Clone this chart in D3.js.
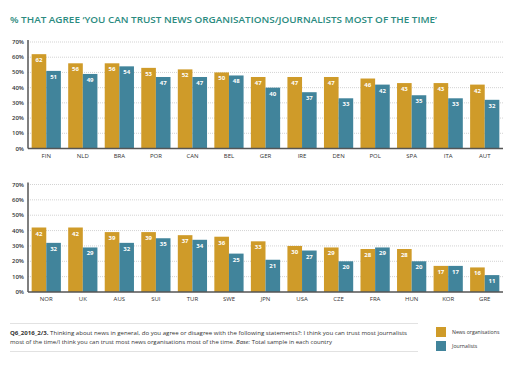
<!DOCTYPE html>
<html>
<head>
<meta charset="utf-8">
<script src="https://cdn.jsdelivr.net/npm/d3@7"></script>
<style>
  body { margin: 0; background: #fff; }
  svg { display: block; font-family: "Open Sans", "DejaVu Sans", sans-serif; }
</style>
</head>
<body>
<script>
// data
const countriesTop = ['FIN', 'NLD', 'BRA', 'POR', 'CAN', 'BEL', 'GER', 'IRE', 'DEN', 'POL', 'SPA', 'ITA', 'AUT'];
const newsOrgsTop = [62, 56, 56, 53, 52, 50, 47, 47, 47, 46, 43, 43, 42];
const journalistsTop = [51, 49, 54, 47, 47, 48, 40, 37, 33, 42, 35, 33, 32];

const countriesBottom = ['NOR', 'UK', 'AUS', 'SUI', 'TUR', 'SWE', 'JPN', 'USA', 'CZE', 'FRA', 'HUN', 'KOR', 'GRE'];
const newsOrgsBottom = [42, 42, 39, 39, 37, 36, 33, 30, 29, 28, 28, 17, 16];
const journalistsBottom = [32, 29, 32, 35, 34, 25, 21, 27, 20, 29, 20, 17, 11];

const yTicks = [0, 10, 20, 30, 40, 50, 60, 70];
const seriesNames = ['News organisations', 'Journalists'];

const gold = '#cf9b29',
    blue = '#41849b',
    axisColor = '#555',
    titleColor = '#2b8b80';

const width = 527, height = 371;
const svg = d3.select('body').append('svg')
    .attr('width', width)
    .attr('height', height);

svg.append('text')
    .attr('x', 10)
    .attr('y', 23)
    .attr('fill', titleColor)
    .attr('font-size', 8.2)
    .attr('font-weight', 600)
    .attr('textLength', 427)
    .attr('lengthAdjust', 'spacingAndGlyphs')
    .text('% THAT AGREE \u2018YOU CAN TRUST NEWS ORGANISATIONS/JOURNALISTS MOST OF THE TIME\u2019');

function drawPanel(countries, news, journ, top, bottom) {
    const left = 28, right = 503;
    const g = svg.append('g');

    const x = d3.scaleBand()
        .domain(countries)
        .range([left, right])
        .paddingInner(0.2)
        .paddingOuter(0.1);
    const xs = d3.scaleBand()
        .domain([0, 1])
        .range([0, x.bandwidth()]);
    const y = d3.scaleLinear()
        .domain([0, 70])
        .range([bottom, top]);

    // gridlines
    g.selectAll('.grid')
        .data(yTicks.slice(1))
        .join('line')
        .attr('x1', left).attr('x2', right)
        .attr('y1', d => y(d)).attr('y2', d => y(d))
        .attr('stroke', '#c8c8c8')
        .attr('stroke-width', 0.8)
        .attr('stroke-dasharray', '1,1');

    // y labels
    g.selectAll('.ylab')
        .data(yTicks)
        .join('text')
        .attr('x', left - 4)
        .attr('y', d => y(d) + 2)
        .attr('text-anchor', 'end')
        .attr('font-size', 6)
        .attr('font-weight', 600)
        .attr('fill', '#333')
        .text(d => d + '%');

    const rows = countries.map((c, i) => ({ c, vals: [news[i], journ[i]] }));
    const groups = g.selectAll('.grp')
        .data(rows)
        .join('g')
        .attr('transform', d => 'translate(' + x(d.c) + ',0)');

    groups.selectAll('rect')
        .data(d => d.vals.map((v, k) => ({ v, k })))
        .join('rect')
        .attr('x', d => xs(d.k))
        .attr('width', xs.bandwidth())
        .attr('y', d => y(d.v))
        .attr('height', d => y(0) - y(d.v))
        .attr('fill', d => d.k == 0 ? gold : blue);

    groups.selectAll('.val')
        .data(d => d.vals.map((v, k) => ({ v, k })))
        .join('text')
        .attr('x', d => xs(d.k) + xs.bandwidth() / 2)
        .attr('y', d => y(d.v) + 8)
        .attr('text-anchor', 'middle')
        .attr('font-size', 6)
        .attr('font-weight', 700)
        .attr('fill', '#fff')
        .text(d => d.v);

    // x labels
    g.selectAll('.xlab')
        .data(countries)
        .join('text')
        .attr('x', d => x(d) + x.bandwidth() / 2)
        .attr('y', bottom + 9)
        .attr('text-anchor', 'middle')
        .attr('font-size', 6)
        .attr('fill', '#333')
        .text(d => d);

    // axes
    g.append('line')
        .attr('x1', left).attr('x2', left)
        .attr('y1', top - 2).attr('y2', bottom)
        .attr('stroke', axisColor).attr('stroke-width', 1.5);
    g.append('line')
        .attr('x1', left).attr('x2', right)
        .attr('y1', bottom).attr('y2', bottom)
        .attr('stroke', axisColor).attr('stroke-width', 1.5);
}

drawPanel(countriesTop, newsOrgsTop, journalistsTop, 42, 148.5);
drawPanel(countriesBottom, newsOrgsBottom, journalistsBottom, 184.5, 292);

// footnote
svg.append('line')
    .attr('x1', 10).attr('x2', 418)
    .attr('y1', 323.5).attr('y2', 323.5)
    .attr('stroke', '#e2e2e2').attr('stroke-width', 1);
svg.append('line')
    .attr('x1', 10).attr('x2', 418)
    .attr('y1', 351.5).attr('y2', 351.5)
    .attr('stroke', '#e2e2e2').attr('stroke-width', 1);

const note1 = svg.append('text')
    .attr('x', 10).attr('y', 335)
    .attr('font-size', 5.2)
    .attr('fill', '#333')
    .attr('textLength', 397)
    .attr('lengthAdjust', 'spacingAndGlyphs');
note1.append('tspan').attr('font-weight', 700).text('Q6_2016_2/3.');
note1.append('tspan').text(' Thinking about news in general, do you agree or disagree with the following statements?: I think you can trust most journalists');

const note2 = svg.append('text')
    .attr('x', 10).attr('y', 344)
    .attr('font-size', 5.2)
    .attr('fill', '#333')
    .attr('textLength', 322)
    .attr('lengthAdjust', 'spacingAndGlyphs');
note2.append('tspan').text('most of the time/I think you can trust most news organisations most of the time. ');
note2.append('tspan').attr('font-style', 'italic').text('Base:');
note2.append('tspan').text(' Total sample in each country');

// legend
const legend = svg.selectAll('.leg')
    .data(seriesNames)
    .join('g')
    .attr('transform', (d, i) => 'translate(436,' + (327 + i * 14) + ')');
legend.append('rect')
    .attr('width', 10).attr('height', 10)
    .attr('fill', (d, i) => i == 0 ? gold : blue);
legend.append('text')
    .attr('x', 16).attr('y', 7)
    .attr('font-size', 5.2)
    .attr('fill', '#333')
    .text(d => d);
</script>
</body>
</html>
